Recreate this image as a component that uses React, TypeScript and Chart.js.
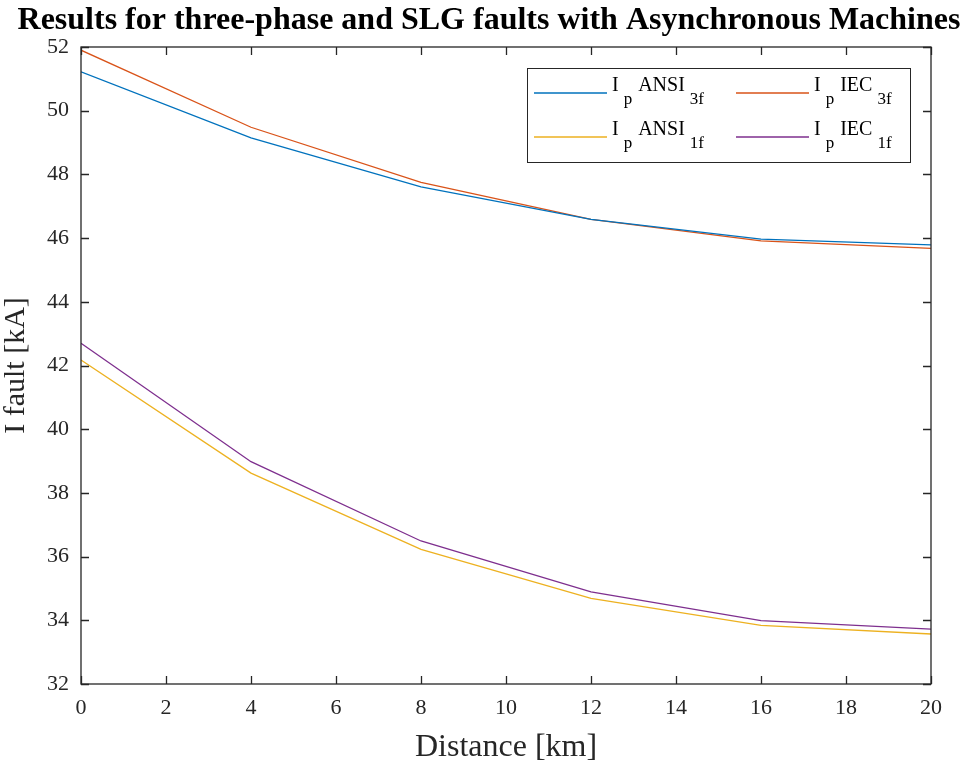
import { useEffect, useRef } from 'react';
import { Chart, registerables } from 'chart.js';

Chart.register(...registerables);

const chartTitle = 'Results for three-phase and SLG faults with Asynchronous Machines';
const xAxisTitle = 'Distance [km]';
const yAxisTitle = 'I fault [kA]';

const distanceKm = [0, 4, 8, 12, 16, 20];
const ansi3f = [51.22, 49.15, 47.61, 46.59, 45.97, 45.79];
const iec3f = [51.9, 49.48, 47.75, 46.59, 45.91, 45.68];
const ansi1f = [42.17, 38.62, 36.23, 34.69, 33.84, 33.57];
const iec1f = [42.7, 38.98, 36.49, 34.89, 33.99, 33.72];

const seriesLabels = ['I_p ANSI_3f', 'I_p IEC_3f', 'I_p ANSI_1f', 'I_p IEC_1f'];
const seriesColors = ['#0072BD', '#D95319', '#EDB120', '#7E2F8E'];
const seriesValues = [ansi3f, iec3f, ansi1f, iec1f];

const xMin = 0;
const xMax = 20;
const xStep = 2;
const yMin = 32;
const yMax = 52;
const yStep = 2;

const FONT = "'Liberation Serif', 'Times New Roman', serif";
const AXIS_COLOR = '#262626';

function parseLabel(label: string) {
  const parts: { text: string; sub: boolean }[] = [];
  const re = /_([^\s_]+)/g;
  let last = 0;
  let m: RegExpExecArray | null;
  while ((m = re.exec(label)) !== null) {
    if (m.index > last) parts.push({ text: label.slice(last, m.index), sub: false });
    parts.push({ text: m[1], sub: true });
    last = m.index + m[0].length;
  }
  if (last < label.length) parts.push({ text: label.slice(last), sub: false });
  return parts;
}

const matlabPlugin = {
  id: 'matlabDecor',
  afterDraw(chart: any) {
    const { ctx, chartArea, scales } = chart;
    const { left, right, top, bottom } = chartArea;
    ctx.save();

    // title
    ctx.fillStyle = '#000';
    ctx.font = `bold 32px ${FONT}`;
    ctx.textAlign = 'center';
    ctx.textBaseline = 'alphabetic';
    ctx.fillText(chartTitle, 489, 29);

    // box
    ctx.strokeStyle = AXIS_COLOR;
    ctx.lineWidth = 1.3;
    ctx.strokeRect(left, top, right - left, bottom - top);

    // inward ticks on all four sides
    const tl = 8;
    ctx.beginPath();
    scales.x.ticks.forEach((t: any) => {
      const px = Math.round(scales.x.getPixelForValue(t.value)) + 0.5;
      ctx.moveTo(px, bottom);
      ctx.lineTo(px, bottom - tl);
      ctx.moveTo(px, top);
      ctx.lineTo(px, top + tl);
    });
    scales.y.ticks.forEach((t: any) => {
      const py = Math.round(scales.y.getPixelForValue(t.value)) + 0.5;
      ctx.moveTo(left, py);
      ctx.lineTo(left + tl, py);
      ctx.moveTo(right, py);
      ctx.lineTo(right - tl, py);
    });
    ctx.stroke();

    // legend
    const boxW = 383;
    const boxH = 94;
    const bx = right - 21 - boxW;
    const by = top + 21;
    ctx.fillStyle = '#fff';
    ctx.fillRect(bx, by, boxW, boxH);
    ctx.lineWidth = 1;
    ctx.strokeStyle = AXIS_COLOR;
    ctx.strokeRect(bx + 0.5, by + 0.5, boxW, boxH);

    const colX = [bx + 7, bx + 209];
    const rowY = [by + 25, by + 69];
    chart.data.datasets.forEach((ds: any, i: number) => {
      const cx = colX[i % 2];
      const cy = rowY[Math.floor(i / 2)];
      ctx.strokeStyle = ds.borderColor;
      ctx.lineWidth = 1.3;
      ctx.beginPath();
      ctx.moveTo(cx, cy);
      ctx.lineTo(cx + 73, cy);
      ctx.stroke();
      let tx = cx + 78;
      ctx.fillStyle = '#000';
      ctx.textAlign = 'left';
      ctx.textBaseline = 'alphabetic';
      parseLabel(ds.label).forEach((p) => {
        if (p.sub) tx += 5;
        ctx.font = p.sub ? `17px ${FONT}` : `20px ${FONT}`;
        ctx.fillText(p.text, tx, p.sub ? cy + 11 : cy - 2);
        tx += ctx.measureText(p.text).width + (p.sub ? 1 : 0);
      });
    });

    ctx.restore();
  },
};

export default function App() {
  const canvasRef = useRef<HTMLCanvasElement | null>(null);

  useEffect(() => {
    document.body.style.margin = '0';
    const canvas = canvasRef.current;
    if (!canvas) return;
    const chart = new Chart(canvas, {
      type: 'line',
      data: {
        datasets: seriesValues.map((vals, i) => ({
          label: seriesLabels[i],
          data: distanceKm.map((d, j) => ({ x: d, y: vals[j] })),
          borderColor: seriesColors[i],
          backgroundColor: seriesColors[i],
          borderWidth: 1.3,
          pointRadius: 0,
          tension: 0,
          fill: false,
        })),
      },
      options: {
        responsive: false,
        animation: false,
        devicePixelRatio: 1,
        layout: { padding: { top: 47, right: 38, left: 0, bottom: 0 } },
        plugins: {
          legend: { display: false },
          title: { display: false },
          tooltip: { enabled: false },
        },
        scales: {
          x: {
            type: 'linear',
            min: xMin,
            max: xMax,
            grid: { display: false },
            border: { display: false },
            ticks: {
              stepSize: xStep,
              color: AXIS_COLOR,
              font: { family: FONT, size: 22 },
              padding: 3,
              maxRotation: 0,
            },
            title: {
              display: true,
              text: xAxisTitle,
              color: AXIS_COLOR,
              font: { family: FONT, size: 32, lineHeight: 1.05 },
              padding: { top: 0, bottom: 0 },
            },
            afterFit: (scale: any) => {
              scale.height = 80;
            },
          },
          y: {
            type: 'linear',
            min: yMin,
            max: yMax,
            grid: { display: false },
            border: { display: false },
            ticks: {
              stepSize: yStep,
              color: AXIS_COLOR,
              font: { family: FONT, size: 22 },
              padding: 4,
            },
            title: {
              display: true,
              text: yAxisTitle,
              color: AXIS_COLOR,
              font: { family: FONT, size: 30, lineHeight: 1.1 },
              padding: { top: 0, bottom: 0 },
            },
            afterFit: (scale: any) => {
              scale.width = 81;
            },
          },
        },
      },
      plugins: [matlabPlugin],
    });
    return () => chart.destroy();
  }, []);

  return (
    <div style={{ width: 969, height: 764 }}>
      <canvas ref={canvasRef} width={969} height={764} />
    </div>
  );
}
